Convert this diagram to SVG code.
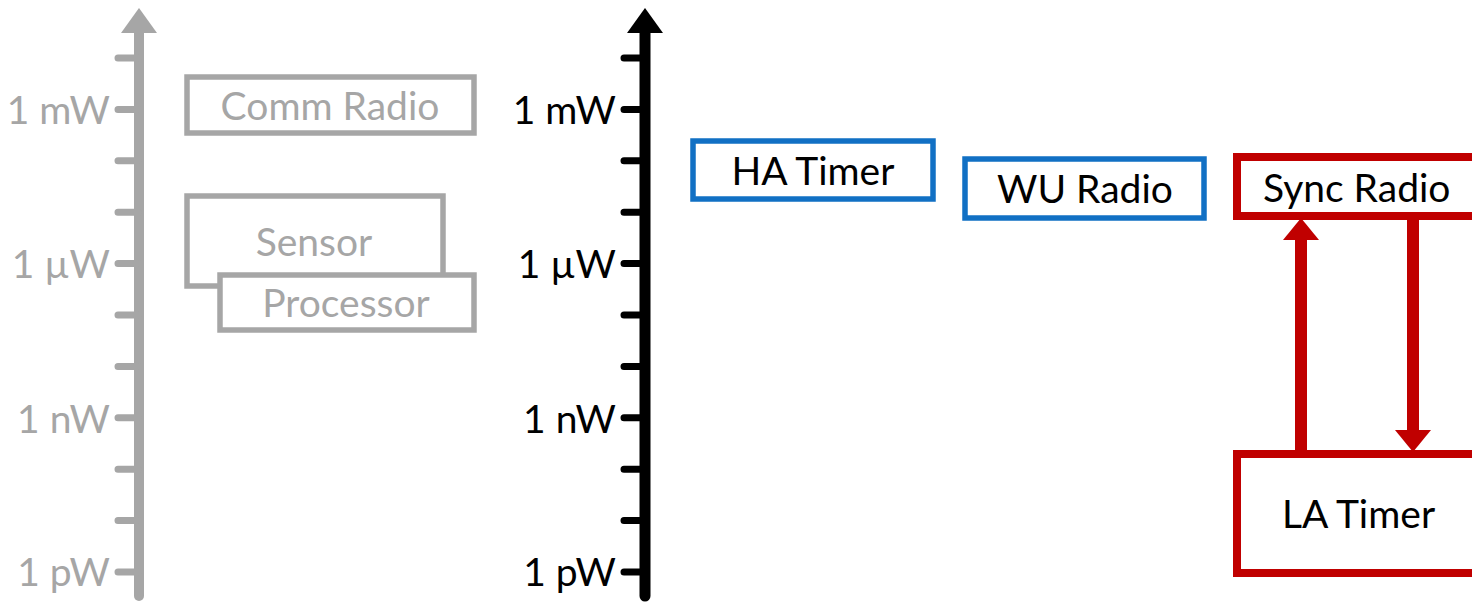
<svg xmlns="http://www.w3.org/2000/svg" width="1472" height="602" viewBox="0 0 1472 602">
  <style>
    text { font-family: Lato, "Liberation Sans", sans-serif; font-size: 39px; }
    .lbl { text-anchor: end; }
    .mid { text-anchor: middle; }
    .grey { fill: #A6A6A6; }
    .dark { fill: #000000; }
    .tick-grey { stroke: #A6A6A6; stroke-width: 7; stroke-linecap: round; fill: none; }
    .tick-dark { stroke: #000000; stroke-width: 7; stroke-linecap: round; fill: none; }
    .box-grey { fill: #FFFFFF; stroke: #A6A6A6; stroke-width: 5.5; }
    .box-blue { fill: #FFFFFF; stroke: #1170C4; stroke-width: 5.5; }
    .box-red { fill: #FFFFFF; stroke: #C00000; stroke-width: 8; }
    .link { stroke: #C00000; stroke-width: 12; fill: none; }
  </style>
  <defs>
    <marker id="head-red" viewBox="0 0 10 10" refX="0" refY="5" markerUnits="userSpaceOnUse" markerWidth="22" markerHeight="36" orient="auto" preserveAspectRatio="none">
      <path d="M0,0 L10,5 L0,10 Z" fill="#C00000"/>
    </marker>
  </defs>

  <!-- Left power scale (grey) -->
  <g id="axis-left">
    <line x1="139" y1="30" x2="139" y2="596" stroke="#A6A6A6" stroke-width="10" stroke-linecap="round"/>
    <path d="M121,33 L139,8 L157,33 Z" fill="#A6A6A6"/>
    <path class="tick-grey" d="M118,58h20 M118,109.4h20 M118,160.8h20 M118,212.2h20 M118,263.6h20 M118,315h20 M118,366.4h20 M118,417.8h20 M118,469.2h20 M118,520.6h20 M118,572h20"/>
    <text class="lbl grey" x="110" y="124">1 mW</text>
    <text class="lbl grey" x="110" y="278">1 µW</text>
    <text class="lbl grey" x="110" y="433">1 nW</text>
    <text class="lbl grey" x="110" y="586">1 pW</text>
  </g>

  <!-- Right power scale (black) -->
  <g id="axis-right">
    <line x1="645" y1="30" x2="645" y2="596" stroke="#000000" stroke-width="11" stroke-linecap="round"/>
    <path d="M627,33 L645,8 L663,33 Z" fill="#000000"/>
    <path class="tick-dark" d="M624,58h20 M624,109.4h20 M624,160.8h20 M624,212.2h20 M624,263.6h20 M624,315h20 M624,366.4h20 M624,417.8h20 M624,469.2h20 M624,520.6h20 M624,572h20"/>
    <text class="lbl dark" x="616" y="124">1 mW</text>
    <text class="lbl dark" x="616" y="278">1 µW</text>
    <text class="lbl dark" x="616" y="433">1 nW</text>
    <text class="lbl dark" x="616" y="586">1 pW</text>
  </g>

  <g id="comm-radio">
    <rect class="box-grey" x="187" y="77" width="287" height="56"/>
    <text class="mid grey" x="330" y="120">Comm Radio</text>
  </g>

  <g id="sensor">
    <rect class="box-grey" x="187" y="196" width="256" height="90"/>
    <text class="mid grey" x="314" y="256">Sensor</text>
  </g>

  <g id="processor">
    <rect class="box-grey" x="220" y="275" width="254" height="55"/>
    <text class="mid grey" x="346" y="317">Processor</text>
  </g>

  <g id="ha-timer">
    <rect class="box-blue" x="693" y="141" width="240" height="58"/>
    <text class="mid dark" x="813" y="185">HA Timer</text>
  </g>

  <g id="wu-radio">
    <rect class="box-blue" x="965" y="159" width="239" height="59"/>
    <text class="mid dark" x="1085" y="203">WU Radio</text>
  </g>

  <g id="sync-radio">
    <rect class="box-red" x="1237" y="157" width="260" height="59"/>
    <text class="dark" x="1263" y="202">Sync Radio</text>
  </g>

  <g id="la-timer">
    <rect class="box-red" x="1237" y="454" width="260" height="119"/>
    <text class="dark" x="1282" y="528">LA Timer</text>
  </g>

  <!-- Connectors between the timer and the sync radio -->
  <g id="connectors">
    <line class="link" x1="1301" y1="450" x2="1301" y2="240" marker-end="url(#head-red)"/>
    <line class="link" x1="1413" y1="220" x2="1413" y2="430" marker-end="url(#head-red)"/>
  </g>
</svg>
